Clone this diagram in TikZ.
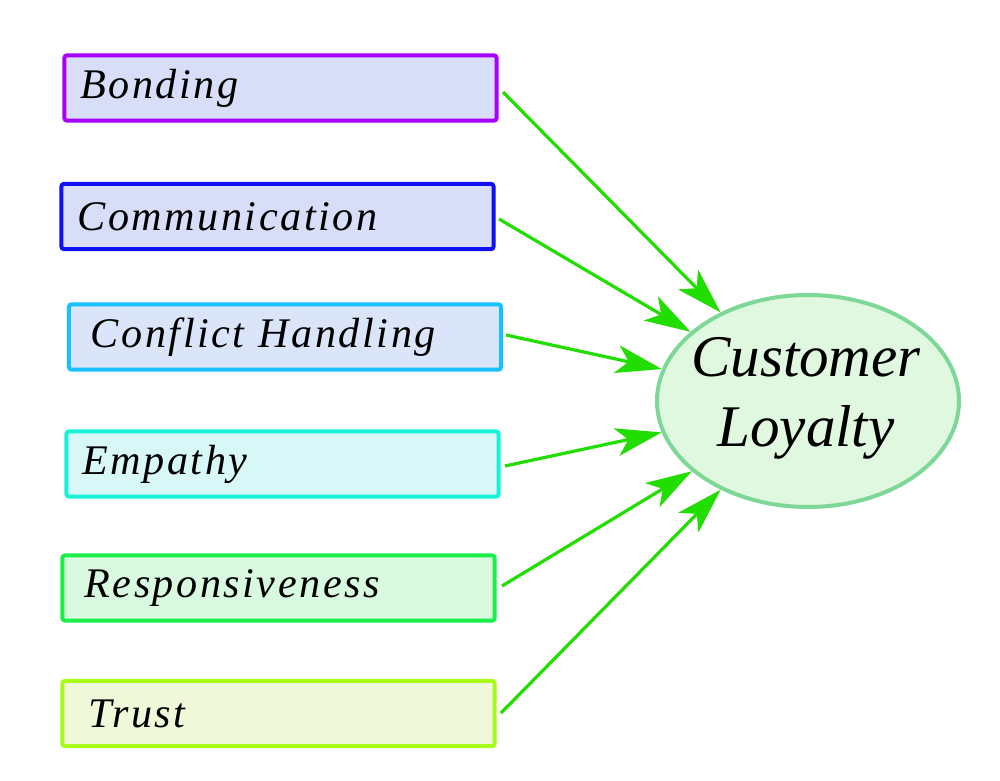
\documentclass[tikz,border=0pt]{standalone}
\usepackage{fontspec}
\setmainfont{Liberation Serif}
\usetikzlibrary{shapes.geometric,arrows.meta}
\definecolor{cBond}{HTML}{A800F8}
\definecolor{cComm}{HTML}{1010F0}
\definecolor{cConf}{HTML}{18C0FF}
\definecolor{cEmp}{HTML}{18F2D8}
\definecolor{cResp}{HTML}{18F048}
\definecolor{cTrust}{HTML}{A8FA18}
\definecolor{fBond}{HTML}{D8DDF8}
\definecolor{fComm}{HTML}{D8DDF8}
\definecolor{fConf}{HTML}{DAE5FA}
\definecolor{fEmp}{HTML}{D8F8F8}
\definecolor{fResp}{HTML}{D8F8E0}
\definecolor{fTrust}{HTML}{F0F8DA}
\definecolor{cEll}{HTML}{7DD898}
\definecolor{fEll}{HTML}{E0F8E0}
\definecolor{cArrow}{HTML}{22DD00}
\tikzset{
  itembox/.style={draw, line width=1mm, rounded corners=0.6mm,
    minimum width=108mm, minimum height=16.3mm, text width=100mm,
    inner xsep=4mm, align=left,
    font=\fontsize{30}{34}\selectfont\itshape\addfontfeatures{LetterSpace=6}},
  goal/.style={ellipse, draw=cEll, fill=fEll, line width=1mm,
    minimum width=75.5mm, minimum height=53mm, inner sep=0pt},
  goaltext/.style={align=center, inner sep=0pt,
    font=\fontsize{42}{49.6}\selectfont\itshape},
  feed/.style={draw=cArrow, line width=0.8mm,
    -{Stealth[length=11.5mm, width=7mm, inset=3mm]}}
}
\begin{document}
\begin{tikzpicture}[x=0.25mm, y=-0.25mm]
\useasboundingbox (0,0) rectangle (1000,781);
\node[itembox, draw=cBond, fill=fBond] (b1) at (280.5,88) {Bonding};
\node[itembox, draw=cComm, fill=fComm] (b2) at (277.5,216.5) {Communication};
\node[itembox, draw=cConf, fill=fConf] (b3) at (285,337) {\hspace*{1.5mm}Conflict Handling};
\node[itembox, draw=cEmp, fill=fEmp] (b4) at (282.5,464) {Empathy};
\node[itembox, draw=cResp, fill=fResp] (b5) at (278.5,588) {\hspace*{1.5mm}Responsiveness};
\node[itembox, draw=cTrust, fill=fTrust] (b6) at (278.5,713.5) {\hspace*{2.5mm}Trust};
\node[goal] (cl) at (808,401) {};
\node[goaltext] (cltext) at (806,398) {Customer\\Loyalty};
\coordinate (s1) at (503,92);
\coordinate (s2) at (499,219);
\coordinate (s3) at (506,335);
\coordinate (s4) at (505,466);
\coordinate (s5) at (502,586);
\coordinate (s6) at (501,713);
\foreach \i in {1,...,6} \draw[feed] (s\i) -- (cl);
\end{tikzpicture}
\end{document}
